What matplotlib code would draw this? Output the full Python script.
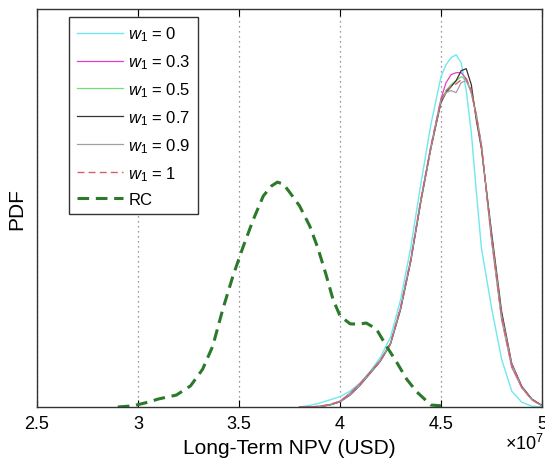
import matplotlib
matplotlib.use("Agg")
import matplotlib.pyplot as plt

plt.rcParams['font.family'] = ['Liberation Sans', 'DejaVu Sans']
plt.rcParams['mathtext.fontset'] = 'custom'
plt.rcParams['mathtext.rm'] = 'Liberation Sans'
plt.rcParams['mathtext.it'] = 'Liberation Sans:italic'

# ---- data (NPV in units of 1e7 USD, PDF normalised) ----
npv_w = [3.80, 3.85, 3.90, 3.95, 4.00, 4.05, 4.10, 4.15, 4.20, 4.25, 4.30, 4.35,
         4.40, 4.45, 4.50, 4.525, 4.55, 4.575, 4.60, 4.625, 4.65, 4.675, 4.70,
         4.75, 4.80, 4.85, 4.90, 4.95, 5.00]

pdf_w0 = [0.0, 0.004, 0.010, 0.018, 0.026, 0.040, 0.060, 0.090, 0.125, 0.175, 0.270, 0.400,
          0.560, 0.710, 0.830, 0.860, 0.878, 0.885, 0.865, 0.795, 0.690, 0.540, 0.400,
          0.250, 0.120, 0.040, 0.012, 0.002, 0.0]
pdf_w03 = [0.0, 0.0, 0.002, 0.006, 0.015, 0.035, 0.060, 0.088, 0.118, 0.160, 0.250, 0.370,
           0.520, 0.655, 0.775, 0.815, 0.835, 0.840, 0.840, 0.825, 0.790, 0.735, 0.660,
           0.420, 0.220, 0.100, 0.048, 0.018, 0.003]
pdf_w05 = [0.0, 0.0, 0.002, 0.006, 0.014, 0.033, 0.058, 0.087, 0.117, 0.160, 0.248, 0.368,
           0.518, 0.652, 0.770, 0.795, 0.810, 0.820, 0.830, 0.822, 0.792, 0.735, 0.655,
           0.425, 0.225, 0.105, 0.050, 0.019, 0.003]
pdf_w07 = [0.0, 0.0, 0.001, 0.005, 0.013, 0.030, 0.055, 0.085, 0.115, 0.158, 0.245, 0.365,
           0.515, 0.650, 0.765, 0.790, 0.805, 0.820, 0.845, 0.850, 0.810, 0.720, 0.650,
           0.440, 0.240, 0.110, 0.052, 0.020, 0.004]
pdf_w09 = [0.0, 0.0, 0.001, 0.005, 0.013, 0.031, 0.056, 0.086, 0.116, 0.159, 0.247, 0.367,
           0.517, 0.650, 0.770, 0.790, 0.795, 0.790, 0.815, 0.820, 0.790, 0.730, 0.655,
           0.430, 0.230, 0.108, 0.050, 0.019, 0.003]
pdf_w1 = [0.0, 0.0, 0.002, 0.006, 0.014, 0.033, 0.058, 0.087, 0.117, 0.160, 0.250, 0.370,
          0.520, 0.655, 0.772, 0.795, 0.805, 0.812, 0.822, 0.825, 0.795, 0.730, 0.655,
          0.428, 0.228, 0.106, 0.050, 0.019, 0.003]

npv_rc = [2.90, 2.975, 3.05, 3.10, 3.19, 3.26, 3.32, 3.37, 3.42, 3.47, 3.52, 3.57,
          3.62, 3.66, 3.69, 3.72, 3.75, 3.80, 3.85, 3.89, 3.93, 3.965, 4.00, 4.05,
          4.09, 4.13, 4.18, 4.23, 4.28, 4.33, 4.38, 4.45, 4.50]
pdf_rc = [0.0, 0.003, 0.012, 0.020, 0.030, 0.053, 0.095, 0.153, 0.246, 0.329, 0.402, 0.470,
          0.530, 0.555, 0.565, 0.560, 0.540, 0.505, 0.455, 0.400, 0.334, 0.271, 0.229, 0.209,
          0.208, 0.211, 0.196, 0.153, 0.113, 0.070, 0.038, 0.005, 0.003]

labels = [r'$w_1$ = 0', r'$w_1$ = 0.3', r'$w_1$ = 0.5', r'$w_1$ = 0.7',
          r'$w_1$ = 0.9', r'$w_1$ = 1', 'RC']
xticks = [2.5, 3.0, 3.5, 4.0, 4.5, 5.0]
xticklabels = ['2.5', '3', '3.5', '4', '4.5', '5']

fig = plt.figure(figsize=(5.45, 4.64), dpi=100)
ax = fig.add_axes([37/545, 56/464, 505/545, 398/464])

ax.plot(npv_w, pdf_w0, color='#6fe8ef', lw=1.0, label=labels[0])
ax.plot(npv_w, pdf_w03, color='#e040c8', lw=0.9, label=labels[1])
ax.plot(npv_w, pdf_w05, color='#72dd72', lw=0.9, label=labels[2])
ax.plot(npv_w, pdf_w07, color='#333333', lw=0.9, label=labels[3])
ax.plot(npv_w, pdf_w09, color='#a0a0a0', lw=0.9, label=labels[4])
ax.plot(npv_w, pdf_w1, color='#d2606e', lw=1.0, ls=(0, (5, 3)), label=labels[5])
ax.plot(npv_rc, pdf_rc, color='#2a7a2a', lw=2.2, ls=(0, (3.8, 2.2)), label=labels[6])

ax.set_xlim(2.5, 5.0)
ax.set_ylim(0, 1.0)
ax.set_xticks(xticks)
ax.set_xticklabels(xticklabels, fontsize=13)
ax.set_yticks([])
ax.tick_params(axis='x', direction='in', length=5, top=True, width=0.8, pad=6)
ax.grid(axis='x', linestyle=(0, (1, 3)), color='#777777', lw=0.9)
for s in ax.spines.values():
    s.set_color('#333333')
    s.set_linewidth(1.0)

ax.set_xlabel('Long-Term NPV (USD)', fontsize=15, labelpad=4)
ax.set_ylabel('PDF', fontsize=15, labelpad=8)
fig.text(0.999, 20/464, r'$\mathregular{\times10^{7}}$', fontsize=13, ha='right', va='center')

leg = ax.legend(loc='upper left', bbox_to_anchor=(69/545, 1 - 18/464),
                bbox_transform=fig.transFigure, borderaxespad=0, fontsize=12,
                handlelength=2.8, handletextpad=0.3, labelspacing=0.55,
                borderpad=0.45, fancybox=False, framealpha=1, edgecolor='#333333')
leg.get_frame().set_linewidth(1.0)

fig.savefig('out.png', dpi=100)
